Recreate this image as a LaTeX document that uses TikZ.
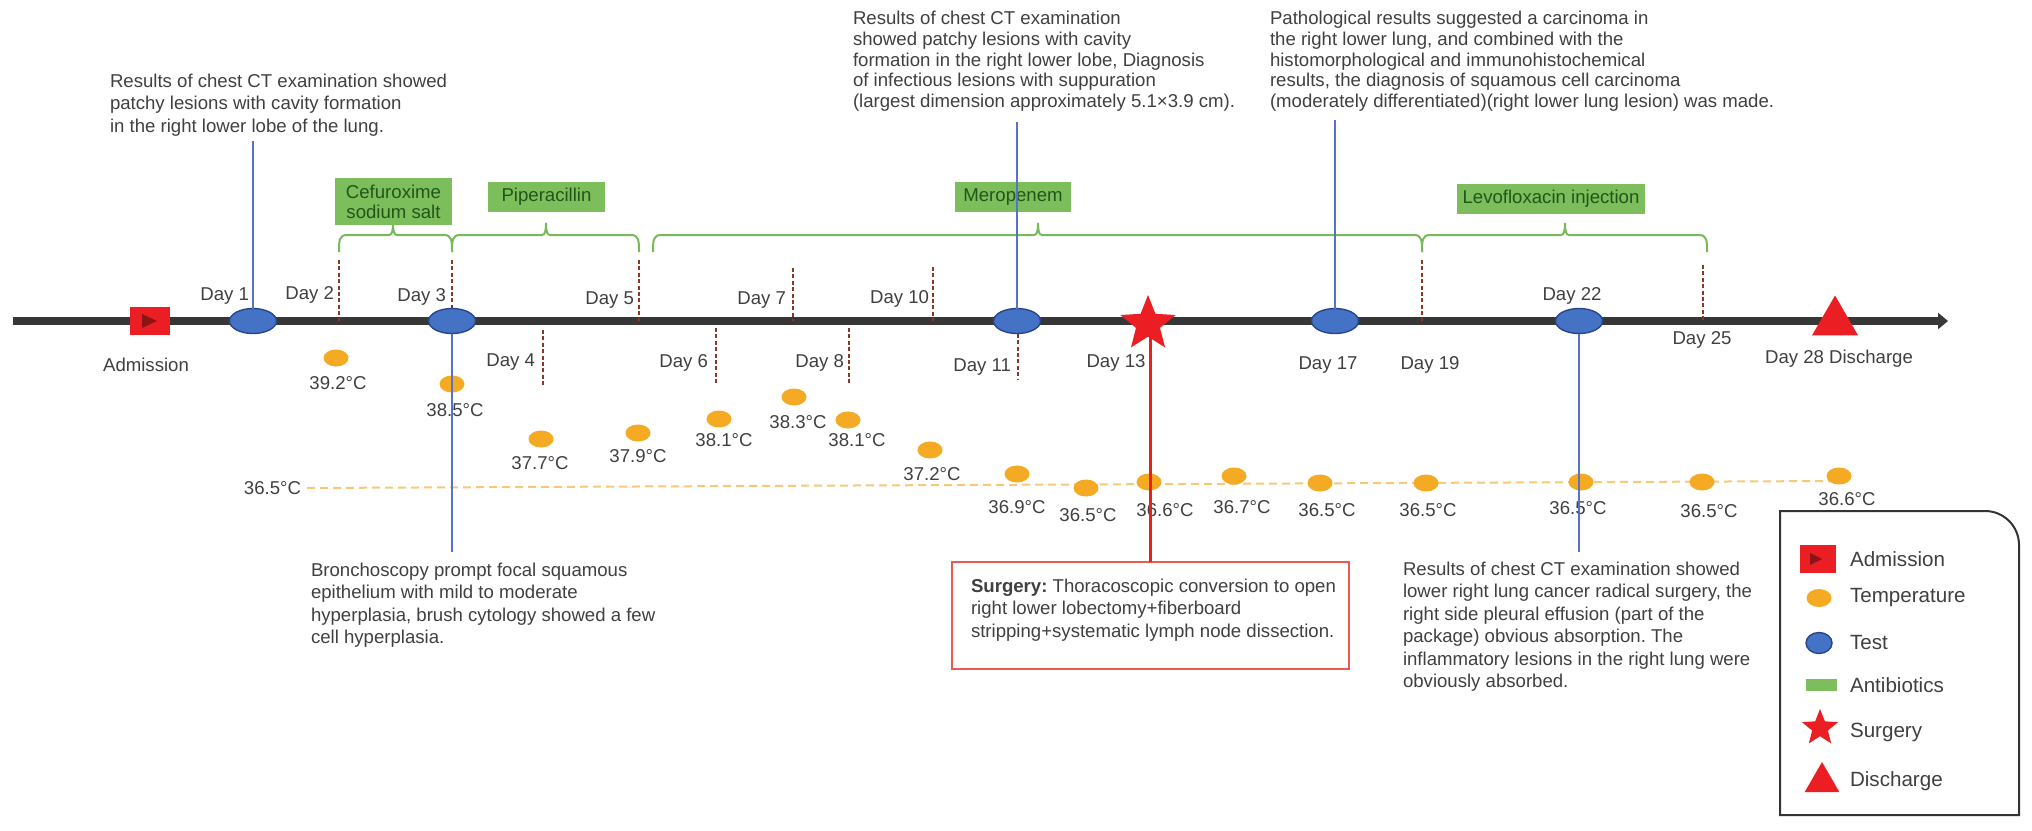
\documentclass[tikz,border=0pt]{standalone}
\usepackage{fontspec}
\setmainfont{Liberation Sans}
\usetikzlibrary{arrows.meta,shapes.geometric}
\frenchspacing
\definecolor{txt}{RGB}{64,64,64}
\definecolor{axisc}{RGB}{55,55,55}
\definecolor{markc}{RGB}{140,55,35}
\definecolor{tempc}{RGB}{248,200,120}
\definecolor{dotc}{RGB}{245,170,35}
\definecolor{bluel}{RGB}{85,115,200}
\definecolor{bluef}{RGB}{68,114,196}
\definecolor{blued}{RGB}{40,70,140}
\definecolor{greenf}{RGB}{124,190,92}
\definecolor{greenl}{RGB}{120,185,90}
\definecolor{greent}{RGB}{35,85,25}
\definecolor{redc}{RGB}{235,30,35}
\definecolor{darkredc}{RGB}{140,20,20}
\definecolor{surgc}{RGB}{235,90,80}
\newcommand\drugbracket[3]{%
  \draw[brk] (#1,252) .. controls (#1,241) and (#1,235) .. (#1+8,235)
    -- (#2-4,235) .. controls (#2-1,235) and (#2,231) .. (#2,223)
    .. controls (#2,231) and (#2+1,235) .. (#2+4,235)
    -- (#3-8,235) .. controls (#3,235) and (#3,241) .. (#3,252);}
\begin{document}
\begin{tikzpicture}[x=0.5pt,y=-0.5pt,
  every node/.style={inner sep=0pt,outer sep=0pt,text=txt,font=\fontsize{9.3}{11.2}\selectfont},
  axisline/.style={line width=4pt,draw=axisc,-{Triangle[length=5pt,width=8pt]}},
  daymark/.style={draw=markc,line width=1.3pt,dash pattern=on 2pt off 1.2pt},
  tline/.style={draw=tempc,line width=1pt,dash pattern=on 4pt off 2.5pt},
  bline/.style={draw=bluel,line width=1.2pt},
  rline/.style={draw=redc,line width=1.5pt},
  brk/.style={draw=greenl,line width=1pt},
  testell/.style={ellipse,fill=bluef,draw=blued,line width=0.7pt,minimum width=23.5pt,minimum height=12.5pt},
  tdot/.style={ellipse,fill=dotc,minimum width=12.5pt,minimum height=8.5pt},
  abox/.style={fill=greenf,text=greent,minimum height=15pt},
  desc/.style={align=left,anchor=north west},
  desctop/.style={align=left,anchor=north west,font=\fontsize{9.3}{10.4}\selectfont},
  legtxt/.style={anchor=west,font=\fontsize{10.3}{12}\selectfont}]
\useasboundingbox (0,0) rectangle (2032,830);
\fill[white] (0,0) rectangle (2032,830);

% main axis
\coordinate (ax0) at (13,321);
\coordinate (ax1) at (1948,321);
\draw[axisline] (ax0) -- (ax1);

% baseline temperature
\coordinate (tl0) at (307,488);
\coordinate (tl1) at (1835,481);
\draw[tline] (tl0) -- (tl1);
\node[anchor=east] (tbase) at (301,488) {36.5°C};

% day markers
\draw[daymark] (339,260) -- (339,321);
\draw[daymark] (452,260) -- (452,321);
\draw[daymark] (639,260) -- (639,321);
\draw[daymark] (793,268) -- (793,321);
\draw[daymark] (933,267) -- (933,321);
\draw[daymark] (1422,260) -- (1422,321);
\draw[daymark] (1703,265) -- (1703,321);
\draw[daymark] (543,330) -- (543,387);
\draw[daymark] (716,328) -- (716,384);
\draw[daymark] (849,328) -- (849,384);
\draw[daymark] (1018,321) -- (1018,380);

% antibiotic brackets
\drugbracket{339}{393}{452}
\drugbracket{452}{546}{639}
\drugbracket{653}{1038}{1422}
\drugbracket{1422}{1565}{1707}

% antibiotic boxes
\node[abox,minimum width=58.5pt,minimum height=23.5pt,align=center,font=\fontsize{9.3}{10}\selectfont] (cef) at (393.5,201.5) {Cefuroxime\\sodium salt};
\node[abox,minimum width=58.5pt] (pip) at (546.5,197) {Piperacillin};
\node[abox,minimum width=58pt] (mero) at (1013,197) {Meropenem};
\node[abox,minimum width=94pt] (levo) at (1551,199) {Levofloxacin injection};

% temperatures
\foreach \n/\dx/\dy/\lx/\ly/\v in {
  1/336/358/338/383/39.2, 2/452/384/455/410/38.5, 3/541/439/540/463/37.7,
  4/638/433/638/456/37.9, 5/719/419/724/440/38.1, 6/794/397/798/422/38.3,
  7/848/420/857/440/38.1, 8/930/450/932/474/37.2, 9/1017/474/1017/507/36.9,
  10/1086/488/1088/515/36.5, 11/1149/482/1165/510/36.6, 12/1234/476/1242/507/36.7,
  13/1320/483/1327/510/36.5, 14/1426/483/1428/510/36.5, 15/1581/482/1578/508/36.5,
  16/1702/482/1709/511/36.5, 17/1839/476/1847/499/36.6}{
  \node[tdot] (td\n) at (\dx,\dy) {};
  \node (tv\n) at (\lx,\ly) {\v°C};
}

% surgery box
\node[draw=surgc,line width=1pt,minimum width=198.5pt,minimum height=53.5pt,anchor=north west] (surgbox) at (952,562) {};
\node[desc] (surgtxt) at (971,579) {\textbf{Surgery:} Thoracoscopic conversion to open\\right lower lobectomy+fiberboard\\stripping+systematic lymph node dissection.};

% markers on axis
\node[testell] (d1) at (253,321) {};
\node[testell] (d3) at (452,321) {};
\node[testell] (d11) at (1017,321) {};
\node[testell] (d17) at (1335,321) {};
\node[testell] (d22) at (1579,321) {};
\node[regular polygon,regular polygon sides=3,fill=redc,minimum size=26.5pt] (dis) at (1835,322) {};
\node[fill=redc,minimum width=20pt,minimum height=14pt] (adm) at (150,321) {};
\fill[darkredc] (142,314) -- (157,321) -- (142,328) -- cycle;

% vertical connectors
\coordinate (ctAend) at (253,141);
\coordinate (bronend) at (452,552);
\coordinate (ctBend) at (1017,122);
\coordinate (pathend) at (1335,120);
\coordinate (ctCend) at (1579,552);
\coordinate (surgc) at (1148,324);
\draw[bline] (ctAend) -- (d1.north);
\draw[bline] (d3.south) -- (bronend);
\draw[bline] (ctBend) -- (d11.north);
\draw[bline] (pathend) -- (d17.north);
\draw[bline] (d22.south) -- (ctCend);
\draw[rline] (surgbox.north) -- (surgbox.north |- surgc);
\node[star,star points=5,star point ratio=2.3,fill=redc,minimum size=29pt] (surg) at (surgc) {};

% day labels
\node[anchor=east] (l1) at (249,296) {Day 1};
\node[anchor=east] (l2) at (334,295) {Day 2};
\node[anchor=east] (l3) at (446,297) {Day 3};
\node[anchor=east] (l5) at (634,300) {Day 5};
\node[anchor=east] (l7) at (786,300) {Day 7};
\node[anchor=east] (l10) at (929,299) {Day 10};
\node (l22) at (1572,296) {Day 22};
\node (ladm) at (146,365) {Admission};
\node[anchor=east] (l4) at (535,362) {Day 4};
\node[anchor=east] (l6) at (708,363) {Day 6};
\node[anchor=east] (l8) at (844,363) {Day 8};
\node[anchor=east] (l11) at (1011,367) {Day 11};
\node (l13) at (1116,363) {Day 13};
\node (l17) at (1328,365) {Day 17};
\node (l19) at (1430,365) {Day 19};
\node (l25) at (1702,340) {Day 25};
\node (l28) at (1839,359) {Day 28 Discharge};

% description texts
\node[desc] (ctA) at (110,74) {Results of chest CT examination showed\\patchy lesions with cavity formation\\in the right lower lobe of the lung.};
\node[desctop] (ctB) at (853,11) {Results of chest CT examination\\showed patchy lesions with cavity\\formation in the right lower lobe, Diagnosis\\of infectious lesions with suppuration\\(largest dimension approximately 5.1×3.9 cm).};
\node[desctop] (path) at (1270,11) {Pathological results suggested a carcinoma in\\the right lower lung, and combined with the\\histomorphological and immunohistochemical\\results, the diagnosis of squamous cell carcinoma\\(moderately differentiated)(right lower lung lesion) was made.};
\node[desc] (bron) at (311,563) {Bronchoscopy prompt focal squamous\\epithelium with mild to moderate\\hyperplasia, brush cytology showed a few\\cell hyperplasia.};
\node[desc] (ctC) at (1403,562) {Results of chest CT examination showed\\lower right lung cancer radical surgery, the\\right side pleural effusion (part of the\\package) obvious absorption. The\\inflammatory lesions in the right lung were\\obviously absorbed.};

% legend
\draw[line width=1pt,draw=black!80] (1780,815) -- (1780,511) [rounded corners=17pt] -- (2019,511) [sharp corners] -- (2019,815) -- cycle;
\node[fill=redc,minimum width=18pt,minimum height=14pt] (gadm) at (1818,559) {};
\fill[darkredc] (1810,553) -- (1822,559) -- (1810,565) -- cycle;
\node[ellipse,fill=dotc,minimum width=12.5pt,minimum height=9pt] (gtmp) at (1819,598) {};
\node[ellipse,fill=bluef,draw=blued,line width=0.7pt,minimum width=13pt,minimum height=10.5pt] (gtst) at (1819,643) {};
\node[fill=greenf,minimum width=15.5pt,minimum height=6pt] (gant) at (1821,685) {};
\node[star,star points=5,star point ratio=2.3,fill=redc,minimum size=19pt] (gsur) at (1820,728) {};
\node[regular polygon,regular polygon sides=3,fill=redc,minimum size=20pt] (gdis) at (1822,782) {};
\node[legtxt] (xadm) at (1850,559) {Admission};
\node[legtxt] (xtmp) at (1850,598) {Temperature};
\node[legtxt] (xtst) at (1850,643) {Test};
\node[legtxt] (xant) at (1850,685) {Antibiotics};
\node[legtxt] (xsur) at (1850,732) {Surgery};
\node[legtxt] (xdis) at (1850,781) {Discharge};
\end{tikzpicture}
\end{document}
